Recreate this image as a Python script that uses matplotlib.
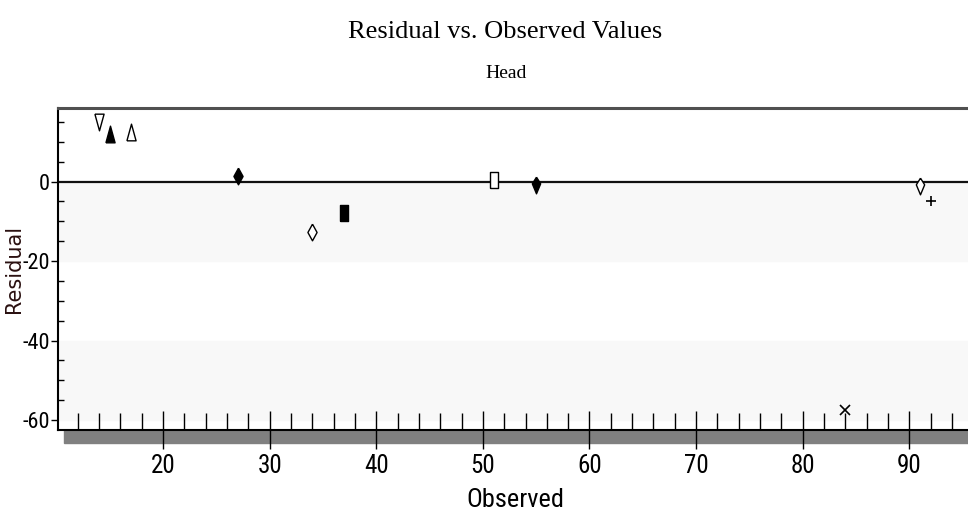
import matplotlib
matplotlib.use("Agg")
import matplotlib.pyplot as plt
from matplotlib import font_manager
from matplotlib.patches import Rectangle
from matplotlib.path import Path
from matplotlib.ticker import MultipleLocator

# 观测值与残差 (Head)
observed = [14, 15, 17, 27, 34, 37, 51, 55, 84, 91, 92]
residual = [15, 12, 12.5, 1.5, -12.75, -7.8, 0.5, -0.75, -57.5, -1, -5]
# 每个点的符号
symbols = ['tri_down', 'tri_up', 'tri_up', 'diamond', 'diamond', 'rect',
           'rect', 'drop', 'x', 'drop', 'plus']
filled = [False, True, False, True, False, True, False, True, True, False, True]

x_ticks = [20, 30, 40, 50, 60, 70, 80, 90]
y_ticks = [0, -20, -40, -60]
bands = [(0, -20), (-40, -60)]

plt.rcParams['axes.unicode_minus'] = False

# 找一个窄字体
installed = {f.name for f in font_manager.fontManager.ttflist}
narrow = 'Liberation Sans'
for name in ['Liberation Sans Narrow', 'DejaVu Sans Condensed', 'Roboto Condensed']:
    if name in installed:
        narrow = name
        break

# 窄一点的符号
shapes = {
    'tri_up': Path([(-0.55, -1), (0.55, -1), (0, 1), (-0.55, -1)]),
    'tri_down': Path([(-0.55, 1), (0.55, 1), (0, -1), (-0.55, 1)]),
    'diamond': Path([(0, 1), (0.55, 0), (0, -1), (-0.55, 0), (0, 1)]),
    'drop': Path([(0, 1), (0.5, 0.2), (0, -1), (-0.5, 0.2), (0, 1)]),
    'rect': Path([(-0.5, -1), (0.5, -1), (0.5, 1), (-0.5, 1), (-0.5, -1)]),
    'x': 'x',
    'plus': '+',
}

fig = plt.figure(figsize=(9.68, 5.16), dpi=100)
ax = fig.add_axes([58 / 968, 86 / 516, 910 / 968, 322 / 516])

ax.set_xlim(10.15, 95.5)
ax.set_ylim(-62.5, 18.5)

for top, bot in bands:
    ax.axhspan(bot, top, color='#f8f8f8', zorder=0)

ax.axhline(0, color='#111111', lw=1.6, zorder=2)

for xv, yv, s, f in zip(observed, residual, symbols, filled):
    m = shapes[s]
    if s in ('x', 'plus'):
        ax.plot(xv, yv, marker=m, ms=7, color='k', mew=1.2, ls='none', zorder=3)
    else:
        ax.plot(xv, yv, marker=m, ms=12, ls='none', mec='k', mew=1.0,
                mfc='k' if f else 'white', zorder=3)

# 底部灰色阴影条
ax.add_patch(Rectangle((6 / 910, -13 / 322), 904 / 910, 13 / 322,
                       transform=ax.transAxes, color='#808080',
                       clip_on=False, zorder=1))

ax.spines['right'].set_visible(False)
ax.spines['top'].set_color('#505050')
ax.spines['top'].set_linewidth(2.2)
ax.spines['left'].set_linewidth(1.5)
ax.spines['bottom'].set_linewidth(1.5)

ax.set_xticks(x_ticks)
ax.xaxis.set_minor_locator(MultipleLocator(2))
ax.set_yticks(y_ticks)
ax.yaxis.set_minor_locator(MultipleLocator(5))

ax.tick_params(axis='x', which='major', direction='inout', length=28, width=1.0,
               pad=3)
ax.tick_params(axis='x', which='minor', direction='in', length=12, width=1.0)
ax.tick_params(axis='y', which='major', direction='out', length=5, width=1.0, pad=1)
ax.tick_params(axis='y', which='minor', direction='in', length=4.5, width=1.0)

for lab in ax.get_xticklabels():
    lab.set_family(narrow)
    lab.set_fontsize(18)
for lab in ax.get_yticklabels():
    lab.set_family(narrow)
    lab.set_fontsize(16)

fig.text(505 / 968, 1 - 32 / 516, 'Residual vs. Observed Values',
         family='Liberation Serif', fontsize=19, ha='center', va='center')
fig.text(506 / 968, 1 - 74 / 516, 'Head', family='Liberation Serif',
         fontsize=14, ha='center', va='center')
fig.text(515 / 968, 1 - 500 / 516, 'Observed', family=narrow, fontsize=19,
         ha='center', va='center')
fig.text(14 / 968, 1 - 269 / 516, 'Residual', family='DejaVu Sans',
         fontsize=15, rotation=90, ha='center', va='center', color='#2a1010')

fig.savefig('out.png', dpi=100)
